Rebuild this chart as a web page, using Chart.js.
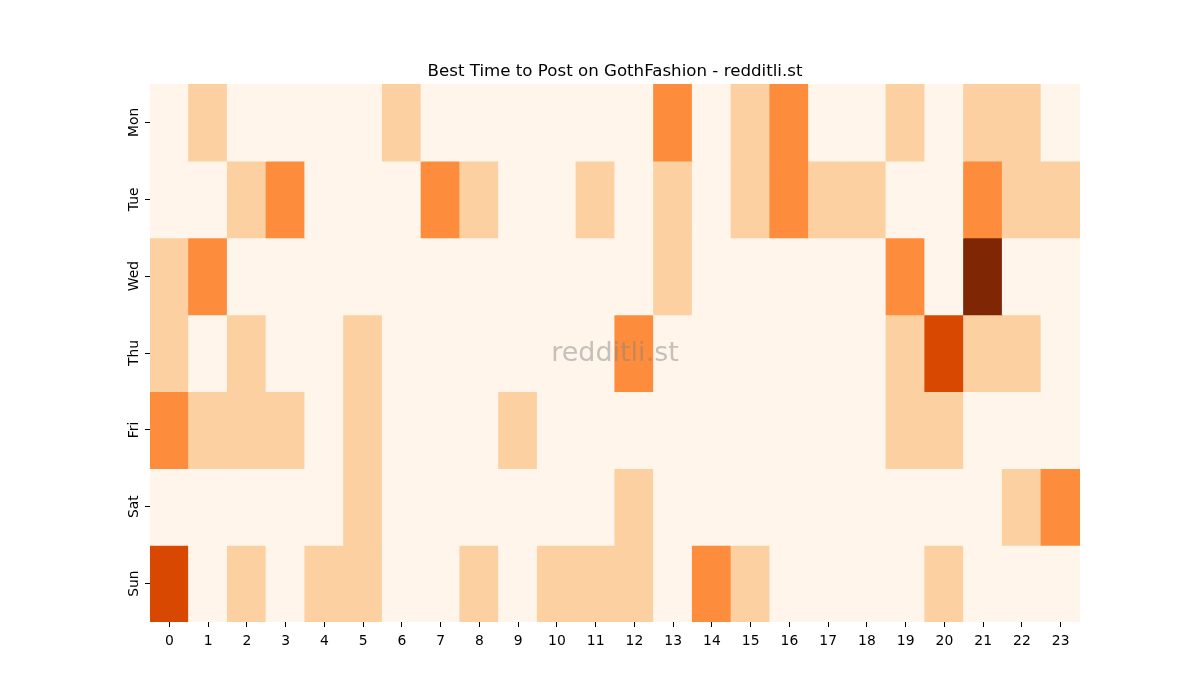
<!DOCTYPE html>
<html>
<head>
<meta charset="utf-8">
<script src="https://cdn.jsdelivr.net/npm/chart.js@4/dist/chart.umd.min.js"></script>
<style>
  html, body { margin: 0; padding: 0; background: #ffffff; }
  #wrap { width: 1200px; height: 700px; }
</style>
</head>
<body>
<div id="wrap"><canvas id="c" width="1200" height="700"></canvas></div>
<script>
// ---- Data (activity level per hour, 0 = lowest .. 4 = highest) ----
const hours = ['0','1','2','3','4','5','6','7','8','9','10','11','12','13','14','15','16','17','18','19','20','21','22','23'];
const days = ['Mon', 'Tue', 'Wed', 'Thu', 'Fri', 'Sat', 'Sun'];
const mon = [0,1,0,0,0,0,1,0,0,0,0,0,0,2,0,1,2,0,0,1,0,1,1,0];
const tue = [0,0,1,2,0,0,0,2,1,0,0,1,0,1,0,1,2,1,1,0,0,2,1,1];
const wed = [1,2,0,0,0,0,0,0,0,0,0,0,0,1,0,0,0,0,0,2,0,4,0,0];
const thu = [1,0,1,0,0,1,0,0,0,0,0,0,2,0,0,0,0,0,0,1,3,1,1,0];
const fri = [2,1,1,1,0,1,0,0,0,1,0,0,0,0,0,0,0,0,0,1,1,0,0,0];
const sat = [0,0,0,0,0,1,0,0,0,0,0,0,1,0,0,0,0,0,0,0,0,0,1,2];
const sun = [3,0,1,0,1,1,0,0,1,0,1,1,1,0,2,1,0,0,0,0,1,0,0,0];
const rows = [mon, tue, wed, thu, fri, sat, sun];
const palette = ['#fff5eb', '#fdd0a2', '#fd8d3c', '#d94801', '#7f2704'];
const titleText = 'Best Time to Post on GothFashion - redditli.st';
const watermark = 'redditli.st';

const FONT = "'DejaVu Sans', sans-serif";

const datasets = rows.map((levels, r) => ({
  label: days[r],
  data: levels.map(() => [r, r + 1]),
  backgroundColor: levels.map(v => palette[v]),
  borderWidth: 0,
  barPercentage: 1.0,
  categoryPercentage: 1.0,
  grouped: false,
  inflateAmount: 0.6
}));

const watermarkPlugin = {
  id: 'watermark',
  afterDatasetsDraw(chart) {
    const a = chart.chartArea;
    const ctx = chart.ctx;
    ctx.save();
    ctx.font = "27px " + FONT;
    ctx.fillStyle = 'rgba(128,128,128,0.45)';
    ctx.textAlign = 'center';
    ctx.textBaseline = 'middle';
    ctx.fillText(watermark, (a.left + a.right) / 2, (a.top + a.bottom) / 2 + 1);
    ctx.restore();
  }
};

new Chart(document.getElementById('c'), {
  type: 'bar',
  data: { labels: hours, datasets },
  plugins: [watermarkPlugin],
  options: {
    responsive: false,
    animation: false,
    layout: { padding: { left: 0, right: 120, top: 62, bottom: 0 } },
    plugins: {
      legend: { display: false },
      tooltip: { enabled: false },
      title: {
        display: true,
        text: titleText,
        fullSize: false,
        color: '#000000',
        font: { family: FONT, size: 16.67, weight: 'normal' },
        padding: { top: 0, bottom: 2 }
      }
    },
    scales: {
      x: {
        type: 'category',
        offset: true,
        border: { display: false },
        grid: { drawOnChartArea: false, drawTicks: true, tickLength: 5, tickColor: '#000', tickWidth: 1, offset: false },
        ticks: { color: '#000', font: { family: FONT, size: 13.9 }, padding: 6, maxRotation: 0, minRotation: 0, autoSkip: false },
        afterFit(scale) { scale.height = 78; }
      },
      y: {
        type: 'linear',
        min: 0,
        max: 7,
        reverse: true,
        border: { display: false },
        grid: { drawOnChartArea: false, drawTicks: true, tickLength: 5, tickColor: '#000', tickWidth: 1 },
        afterBuildTicks(scale) { scale.ticks = days.map((d, i) => ({ value: i + 0.5 })); },
        ticks: {
          color: '#000',
          font: { family: FONT, size: 13.9 },
          minRotation: 90,
          maxRotation: 90,
          crossAlign: 'center',
          padding: -5,
          callback: (v) => days[Math.floor(v)]
        },
        afterFit(scale) { scale.width = 150; }
      }
    }
  }
});
</script>
</body>
</html>
